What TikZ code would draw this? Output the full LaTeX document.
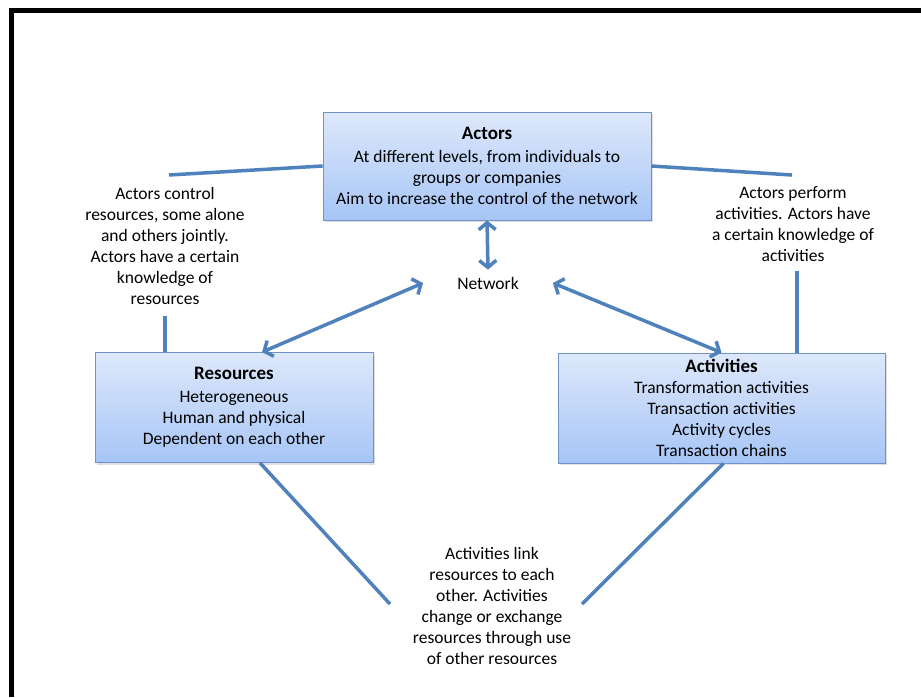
\documentclass[tikz,border=0pt]{standalone}
\usepackage{fontspec}
\setmainfont{Carlito}
\usetikzlibrary{arrows.meta,shadows}
\definecolor{linkblue}{RGB}{79,129,189}
\definecolor{boxtop}{RGB}{222,232,251}
\definecolor{boxbot}{RGB}{166,197,246}
\definecolor{boxline}{RGB}{112,146,201}
\newcommand{\boxtitle}[1]{{\fontsize{19}{21}\selectfont\textbf{#1}}}

\begin{document}
\begin{tikzpicture}[
   x=1pt, y=-1pt,
   font=\fontsize{17.5}{21}\selectfont,
   every node/.style={align=center},
   box/.style={draw=boxline, line width=0.8pt, top color=boxtop, bottom color=boxbot,
      drop shadow={shadow xshift=2pt, shadow yshift=-2pt, opacity=0.25}},
   link/.style={draw=linkblue, line width=3.5pt},
   both/.style={link, {Straight Barb[length=7pt,width=17pt]}-{Straight Barb[length=7pt,width=17pt]}},
   frame/.style={draw=black, line width=4.5pt}]

\useasboundingbox (0,0) rectangle (921,697);
\draw[frame] (9,10.5) -- (921,10.5);
\draw[frame] (11.5,8.5) -- (11.5,697);

\node[box, minimum width=328pt, minimum height=108pt] (actors) at (487,166)
   {\boxtitle{Actors}\\[2pt] At different levels, from individuals to\\ groups or companies\\
    Aim to increase the control of the network};
\node[inner xsep=34pt, inner ysep=7pt] (network) at (488,283) {Network};
\node[box, minimum width=278pt, minimum height=110pt] (resources) at (234,407.5)
   {\boxtitle{Resources}\\[2pt] Heterogeneous\\ Human and physical\\ Dependent on each other};
\node[box, minimum width=327pt, minimum height=110pt] (activities) at (721.5,408)
   {\boxtitle{Activities}\\ Transformation activities\\ Transaction activities\\
    Activity cycles\\ Transaction chains};

\node (ctrltext) at (165,246) {Actors control\\ resources, some alone\\ and others jointly.\\
   Actors have a certain\\ knowledge of\\ resources};
\node (perftext) at (793,224) {Actors perform\\ activities. Actors have\\
   a certain knowledge of\\ activities};
\node (usetext) at (492,606) {Activities link\\ resources to each\\ other. Activities\\
   change or exchange\\ resources through use\\ of other resources};

\coordinate (ctrlend) at (169,175);
\coordinate (perfend) at (792,175);
\coordinate (ctrlfoot) at (165,316);
\coordinate (perffoot) at (797,271);
\coordinate (resend) at (390,604);
\coordinate (actend) at (582,604);

\draw[link] (actors.west) -- (ctrlend);
\draw[link] (actors.east) -- (perfend);
\draw[link] (ctrlfoot) -- (ctrlfoot |- resources.north);
\draw[link] (perffoot) -- (perffoot |- activities.north);
\draw[both] (actors.south) -- (network.north);
\draw[both] ([xshift=28pt]resources.north) -- (network.west);
\draw[both] (network.east) -- (activities.north);
\draw[link] ([xshift=26pt]resources.south) -- (resend);
\draw[link] ([xshift=2pt]activities.south) -- (actend);

\end{tikzpicture}
\end{document}
